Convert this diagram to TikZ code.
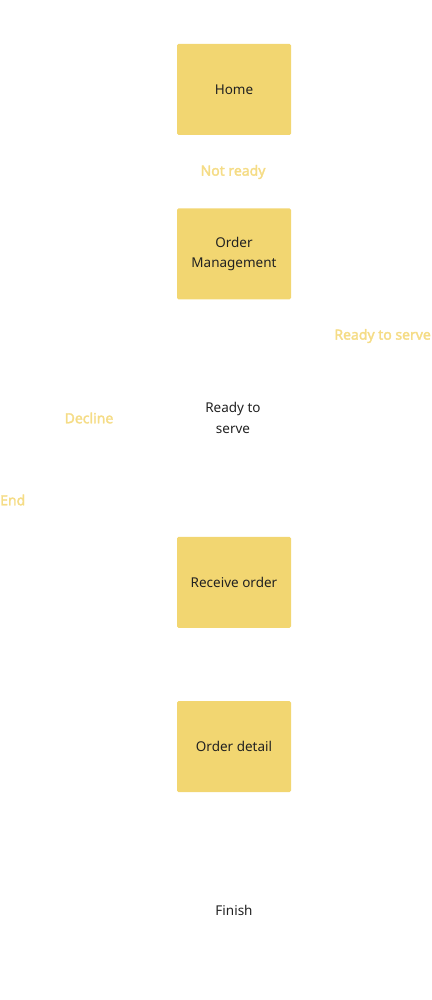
\documentclass[tikz,border=0pt]{standalone}
\usepackage{fontspec}
\setmainfont{Noto Sans}
\newfontfamily\condfont{Noto Sans}[FakeBold=2.2]
\usetikzlibrary{positioning}
\definecolor{boxyellow}{HTML}{F2D671}
\definecolor{condyellow}{HTML}{F5DC86}
\definecolor{inkdark}{HTML}{222222}

\begin{document}
\begin{tikzpicture}[x=1pt,y=-1pt,
  every node/.style={font=\fontsize{13.5pt}{20.5pt}\selectfont, text=inkdark, align=center},
  screen/.style={shape=rectangle, fill=boxyellow, rounded corners=1.5pt, minimum width=114pt, minimum height=91pt, inner sep=0pt},
  condition/.style={text=condyellow, font=\condfont\fontsize{14pt}{20.5pt}\selectfont, inner sep=0pt},
  ]
	\useasboundingbox (0,0) rectangle (431,1000);
	% create the nodes
	\node (home)[screen] at (234,89.5) {Home};
	\node (ordermgmt)[screen, below=73pt of home] {Order\\Management};
	\node (ready) at (233,418) {Ready to\\serve};
	\node (receive)[screen, below=237pt of ordermgmt] {Receive order};
	\node (detail)[screen, below=73pt of receive] {Order detail};
	\node (finish) at (234,910) {Finish};

	% conditions
	\node (notready)[condition] at (233,172) {Not ready};
	\node (readyserve)[condition, anchor=east] at (431,336) {Ready to serve};
	\node (decline)[condition] at (89,418) {Decline};
	\node (endlbl)[condition, anchor=west] at (0,500) {End};
\end{tikzpicture}
\end{document}
